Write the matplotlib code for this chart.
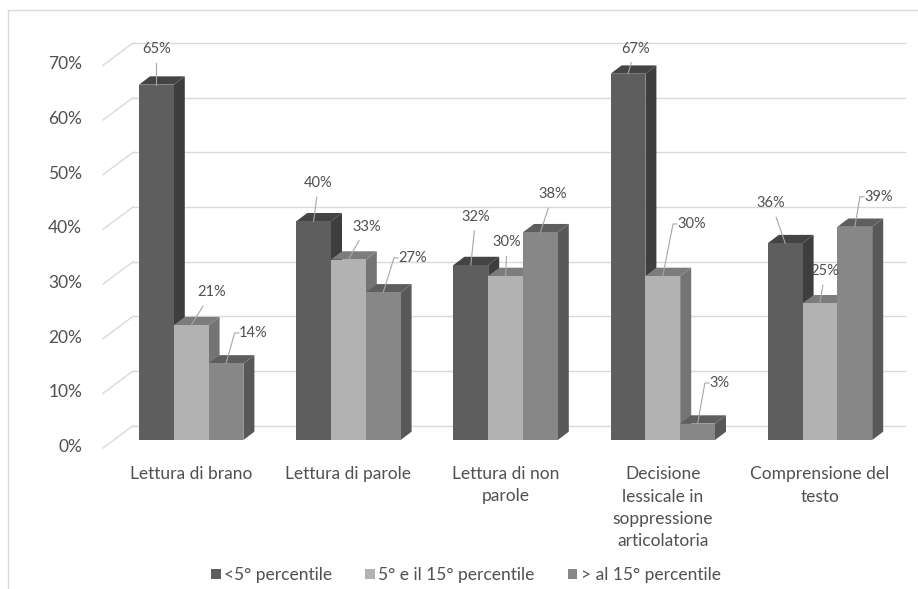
import numpy as np
import matplotlib
matplotlib.use("Agg")
import matplotlib.pyplot as plt
from matplotlib.patches import Polygon, Rectangle, Patch

plt.rcParams['font.family'] = ['Lato', 'DejaVu Sans']

# data
categories = ["Lettura di brano", "Lettura di parole", "Lettura di non\nparole",
              "Decisione\nlessicale in\nsoppressione\narticolatoria",
              "Comprensione del\ntesto"]
series_names = ["<5° percentile", "5° e il 15° percentile", "> al 15° percentile"]
below_5 = [65, 40, 32, 67, 36]
between_5_15 = [21, 33, 30, 30, 25]
above_15 = [14, 27, 38, 3, 39]
yticks = [0, 10, 20, 30, 40, 50, 60, 70]

values = [below_5, between_5_15, above_15]

# face colours per series: front, top, side
front_cols = ["#5e5e5e", "#b2b2b2", "#878787"]
top_cols = ["#444444", "#7c7c7c", "#5e5e5e"]
side_cols = ["#3e3e3e", "#747474", "#585858"]
text_col = "#505050"

# label offsets from the bar's front top (pixels), and whether the leader has an elbow
label_off = [
    [(0, -36, 0), (5, -38, 0), (5, -48, 0), (7.5, -25, 0), (-14, -40, 0)],
    [(20.5, -33, 0), (18.5, -33, 0), (1.5, -33.5, 0), (29, -52, 1), (5, -32, 0)],
    [(27.5, -30.5, 1), (29.6, -34.5, 1), (12.5, -38, 0), (21.5, -40.6, 1), (24, -30, 1)],
]

W, H = 918, 589
fig = plt.figure(figsize=(W / 100, H / 100), dpi=100)
ax = fig.add_axes([0, 0, 1, 1])

# pixel scales of the layout
PXX = 157.2       # px per category
PXY = 5.467       # px per percent
X0, Y0 = 191.2, 440.0   # first group centre / bar baseline (px from top)
ax.set_xlim(-X0 / PXX, (W - X0) / PXX)
ax.set_ylim(-(H - Y0) / PXY, Y0 / PXY)
ax.axis("off")

def dx(p):
    return p / PXX

def dy(p):
    return p / PXY

# back wall gridlines and the short diagonal ticks of the side wall
back_dy = dy(14.3)
wall_left, wall_right = dx(133 - X0), dx(905 - X0)
front_x, front_dy = dx(103 - X0), dy(-8)
for v in yticks:
    ax.plot([wall_left, wall_right], [v + back_dy, v + back_dy], color="#d9d9d9", lw=1, zorder=1)
    ax.plot([front_x, wall_left], [v + front_dy, v + back_dy], color="#d9d9d9", lw=1, zorder=1)
    ax.text(dx(82 - X0), v + dy(-7), f"{v}%", ha="right", va="center",
            fontsize=12.5, color=text_col)

# 3d-looking bars
bw = dx(34.8)
ddx, ddy = dx(11), dy(8.3)
for g in range(len(categories)):
    for s in range(3):
        h = values[s][g]
        c = g + (s - 1) * bw
        l, r = c - bw / 2, c + bw / 2
        side = [(r, 0), (r + ddx, ddy), (r + ddx, h + ddy), (r, h)]
        top = [(l, h), (r, h), (r + ddx, h + ddy), (l + ddx, h + ddy)]
        z = 2 + g * 3 + s
        ax.add_patch(Polygon(side, closed=True, fc=side_cols[s], ec="none", zorder=z))
        ax.add_patch(Polygon(top, closed=True, fc=top_cols[s], ec="none", zorder=z))
        ax.add_patch(Rectangle((l, 0), bw, h, fc=front_cols[s], ec="none", zorder=z))

        # data label with leader line
        ox, oy, elbow = label_off[s][g]
        lx, ly = c + dx(ox), h - dy(oy)
        txt = f"{h}%"
        ax.text(lx, ly, txt, ha="center", va="center", fontsize=10.5,
                color=text_col, zorder=30)
        if elbow:
            half = dx(4.6 * len(txt))
            xs = [lx - half - dx(1), lx - half - dx(5), c]
            ys = [ly, ly, h]
        else:
            t = dy(14) / (ly - h)
            xs = [lx + (c - lx) * t, c]
            ys = [ly - dy(14), h]
        ax.plot(xs, ys, color="#a6a6a6", lw=0.8, zorder=29)

# category labels
for g, name in enumerate(categories):
    ax.text(g, dy(-26), name, ha="center", va="top", fontsize=12.5,
            color=text_col, linespacing=1.5)

# outer chart frame
fig.add_artist(Rectangle((8 / W, -0.1), 1.2, 1 - 10 / H + 0.1, transform=fig.transFigure,
                         fill=False, ec="#d9d9d9", lw=1))

handles = [Patch(fc=front_cols[s], ec="none") for s in range(3)]
fig.legend(handles, series_names, loc="center", bbox_to_anchor=(466 / W, 1 - 575 / H),
           ncol=3, frameon=False, fontsize=12.5, handlelength=0.55, handleheight=0.55,
           handletextpad=0.2, columnspacing=1.9, labelcolor=text_col)

fig.savefig("out.png", dpi=100)
